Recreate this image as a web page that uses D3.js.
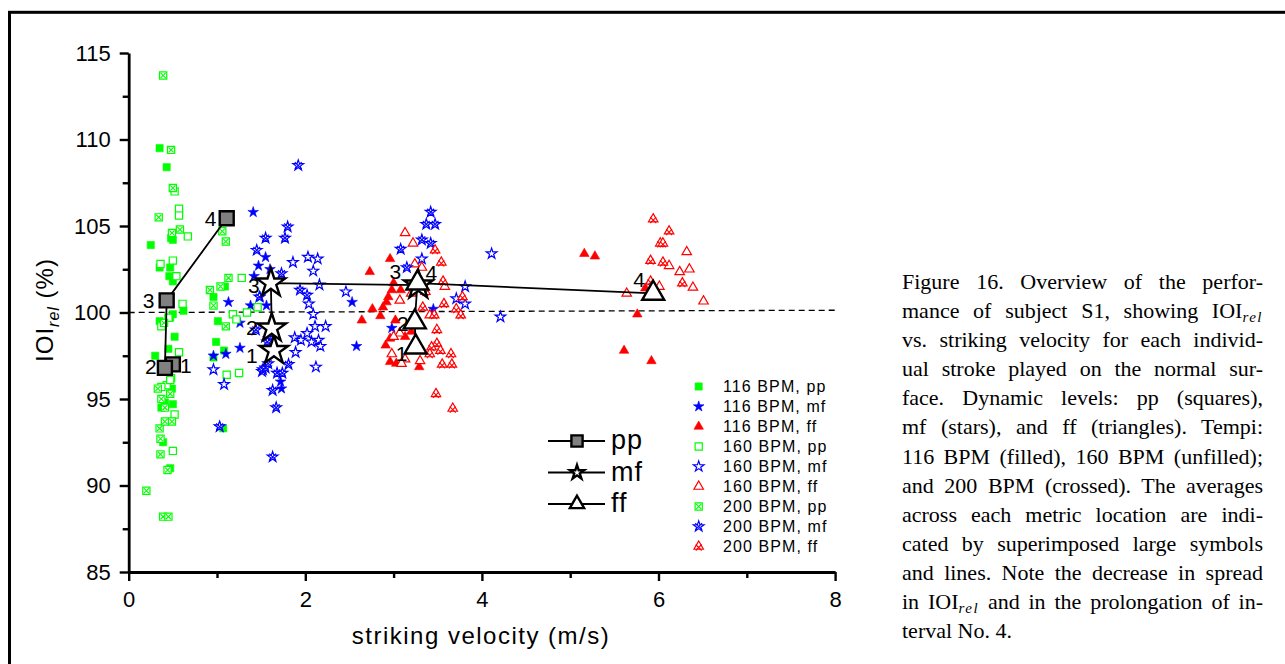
<!DOCTYPE html>
<html><head><meta charset="utf-8">
<script src="https://cdn.jsdelivr.net/npm/d3@7"></script>
<style>
body{margin:0;background:#fff;}
#wrap{position:relative;width:1285px;height:664px;overflow:hidden;background:#fff;}
#caption{position:absolute;left:902px;top:267px;width:361px;font-family:"Liberation Serif","Times New Roman",serif;font-size:22px;color:#000;}
#caption div{height:29.1px;line-height:29.1px;white-space:nowrap;text-align:justify;text-align-last:justify;}
#caption div.last{text-align-last:left;}
#caption .sub{font-style:italic;font-size:15px;position:relative;top:4px;letter-spacing:1.5px;line-height:0;}
</style></head><body>
<div id="wrap"><svg id="chart" width="1285" height="664"></svg><div id="caption"></div></div>
<script>
// ---------- data ----------
const xTicksMajor = [0, 2, 4, 6, 8];
const xTicksMinor = [1, 3, 5, 7];
const yTicksMajor = [85, 90, 95, 100, 105, 110, 115];
const yTicksMinor = [87.5, 92.5, 97.5, 102.5, 107.5, 112.5];

const pp116 = [[0.35,109.5],[0.43,108.4],[0.25,103.9],[0.48,104.3],[0.50,104.2],[0.35,102.6],[0.47,102.6],[0.46,102.1],[0.50,101.8],[0.62,100.1],[0.35,99.5],[0.47,99.7],[0.52,98.6],[0.45,97.9],[0.30,97.5],[0.49,95.6],[0.50,94.7],[0.41,94.8],[0.37,94.5],[0.39,92.5],[0.47,91.0],[0.96,100.9],[1.09,101.5],[1.01,99.5],[0.99,98.3],[1.08,97.8],[0.96,97.4],[1.07,93.3],[0.50,99.9]];
const pp160 = [[0.52,107.0],[0.57,106.0],[0.57,105.6],[0.67,104.4],[0.36,102.8],[0.50,103.0],[0.54,102.1],[0.61,100.5],[0.45,99.7],[0.37,99.2],[0.57,97.7],[0.48,96.2],[0.43,95.8],[0.37,95.7],[0.47,96.1],[0.52,94.1],[0.50,92.0],[1.28,102.0],[1.18,99.9],[1.34,100.0],[1.46,100.3],[1.22,99.6],[1.11,96.4],[1.25,96.5]];
const pp200 = [[0.39,113.7],[0.48,109.4],[0.50,107.2],[0.34,105.5],[0.58,104.8],[0.49,104.6],[0.40,99.4],[0.33,95.6],[0.37,95.0],[0.47,95.3],[0.41,94.5],[0.35,93.3],[0.41,93.7],[0.49,93.7],[0.36,92.7],[0.36,91.8],[0.44,90.9],[0.20,89.7],[0.39,88.2],[0.45,88.2],[1.06,104.7],[1.10,104.1],[1.13,102.0],[0.92,101.3],[1.04,101.5],[0.96,100.4],[1.10,99.2]];
const mf116 = [[1.41,105.8],[1.55,103.2],[1.47,102.7],[1.60,102.5],[1.42,102.1],[1.13,100.6],[1.38,100.4],[1.56,100.4],[1.49,100.9],[1.26,99.4],[0.96,97.5],[1.10,97.6],[1.26,97.95],[1.03,93.4],[1.73,95.6],[1.72,96.0],[2.53,100.6],[2.58,98.05],[3.45,100.2],[2.98,99.1]];
const mf160 = [[1.86,102.9],[2.03,103.2],[2.14,103.1],[2.09,102.4],[2.16,101.6],[2.04,100.5],[2.09,99.9],[2.46,101.2],[2.11,99.2],[2.23,99.2],[1.88,98.55],[1.95,98.4],[2.02,98.8],[2.07,98.3],[2.15,98.4],[2.17,98.05],[1.89,97.7],[2.12,96.85],[0.96,96.7],[1.08,95.85],[1.51,96.6],[4.11,103.4],[3.81,101.5],[3.71,100.8],[3.81,100.5],[4.21,99.75],[3.32,103.1]];
const mf200 = [[1.92,108.5],[1.80,104.95],[1.55,104.3],[1.77,104.3],[1.45,103.6],[1.73,102.25],[1.48,100.9],[1.94,101.3],[2.02,101.0],[1.59,98.5],[1.44,99.0],[1.52,96.7],[1.68,96.5],[1.74,96.5],[1.81,97.0],[1.63,95.5],[1.67,94.5],[1.63,91.65],[1.03,93.4],[1.57,98.3],[1.55,96.8],[1.58,97.05],[3.42,105.8],[3.37,105.1],[3.47,105.1],[3.32,104.2],[3.42,104.0],[3.08,103.66],[3.15,102.6]];
const ff116 = [[2.73,102.35],[2.96,103.1],[3.00,101.7],[2.98,101.3],[3.08,101.3],[2.94,100.9],[2.92,100.6],[2.88,100.3],[2.76,100.2],[2.64,99.55],[2.85,99.8],[3.02,99.55],[3.13,98.6],[2.91,98.1],[2.96,97.15],[3.03,97.05],[3.29,96.85],[5.16,103.4],[5.28,103.25],[5.76,99.9],[5.61,97.8],[5.92,97.2],[5.85,101.4],[3.20,98.9],[2.96,98.5]];
const ff160 = [[3.13,104.6],[3.22,104.0],[3.24,102.8],[3.32,102.6],[3.07,100.7],[3.58,101.5],[3.07,98.8],[3.00,98.6],[2.98,97.6],[3.13,97.3],[3.09,97.05],[3.30,97.2],[3.41,99.85],[6.32,103.5],[6.35,102.5],[6.24,102.35],[6.12,102.7],[6.39,101.45],[6.51,100.65],[6.01,101.5],[5.64,101.1],[3.20,101.1]];
const ff200 = [[3.47,103.6],[3.54,102.9],[3.56,101.8],[3.33,100.3],[3.46,99.85],[3.57,100.5],[3.71,100.2],[3.76,99.85],[3.78,100.9],[3.49,99.0],[3.49,98.2],[3.43,98.0],[3.53,97.8],[3.65,97.6],[3.55,97.0],[3.66,97.0],[3.41,97.6],[3.48,95.3],[3.67,94.45],[5.94,105.4],[6.12,104.7],[6.02,104.0],[6.05,104.0],[5.91,103.0],[6.05,102.9],[6.27,101.7],[5.91,101.8],[3.36,101.2]];

const avgLabels = ["1", "2", "3", "4"];
const ppAvgX = [0.50, 0.41, 0.43, 1.11];
const ppAvgY = [97.0, 96.8, 100.7, 105.45];
const mfAvgX = [1.645, 1.62, 1.61, 3.28];
const mfAvgY = [97.8, 99.1, 101.7, 101.58];
const ffAvgX = [3.25, 3.24, 3.27, 5.94];
const ffAvgY = [98.0, 99.45, 101.7, 101.1];

const refLineX = [0, 8];
const refLineY = [100.0, 100.13];

const seriesNames = ["116 BPM, pp","116 BPM, mf","116 BPM, ff","160 BPM, pp","160 BPM, mf","160 BPM, ff","200 BPM, pp","200 BPM, mf","200 BPM, ff"];
const avgNames = ["pp", "mf", "ff"];

const captionLines = [
 "Figure 16. Overview of the perfor-",
 "mance of subject S1, showing IOI<span class='sub'>rel</span>",
 "vs. striking velocity for each individ-",
 "ual stroke played on the normal sur-",
 "face. Dynamic levels: pp (squares),",
 "mf (stars), and ff (triangles). Tempi:",
 "116 BPM (filled), 160 BPM (unfilled);",
 "and 200 BPM (crossed). The averages",
 "across each metric location are indi-",
 "cated by superimposed large symbols",
 "and lines. Note the decrease in spread",
 "in IOI<span class='sub'>rel</span> and in the prolongation of in-",
 "terval No. 4."
];

// ---------- layout ----------
const GREEN = "#00ff00", BLUE = "#0000ff", RED = "#ff0000";
const FONT = "'Liberation Sans', Arial, Helvetica, sans-serif";
const svg = d3.select("#chart");
const xS = d3.scaleLinear().domain([0, 8]).range([128.7, 835.1]);
const yS = d3.scaleLinear().domain([85, 115]).range([572, 53]);

// frame
svg.append("rect").attr("x", 9.5).attr("y", 12.3).attr("width", 1400).attr("height", 800)
  .attr("fill", "none").attr("stroke", "#000").attr("stroke-width", 3);

// reference dashed line
svg.append("line").attr("x1", xS(refLineX[0])).attr("x2", xS(refLineX[1]))
  .attr("y1", yS(refLineY[0])).attr("y2", yS(refLineY[1]))
  .attr("stroke", "#000").attr("stroke-width", 1.3).attr("stroke-dasharray", "6,4");

// axes
function styleAxis(g) {
  g.select(".domain").attr("stroke-width", 2.8);
  g.selectAll(".tick line").attr("stroke-width", 2.4);
  g.selectAll("text").attr("font-family", FONT).attr("font-size", 22).attr("fill", "#000");
}
const yAxis = svg.append("g").attr("transform", `translate(${xS(0)},0)`)
  .call(d3.axisLeft(yS).tickValues(yTicksMajor).tickSize(9).tickSizeOuter(0).tickPadding(9).tickFormat(d3.format("d")));
styleAxis(yAxis);
const yMinor = svg.append("g").attr("transform", `translate(${xS(0)},0)`)
  .call(d3.axisLeft(yS).tickValues(yTicksMinor).tickSize(6).tickSizeOuter(0).tickFormat(""));
yMinor.select(".domain").remove(); yMinor.selectAll(".tick line").attr("stroke-width", 2.4);
const xAxis = svg.append("g").attr("transform", `translate(0,${yS(85)})`)
  .call(d3.axisBottom(xS).tickValues(xTicksMajor).tickSize(9).tickSizeOuter(0).tickPadding(10).tickFormat(d3.format("d")));
styleAxis(xAxis);
const xMinor = svg.append("g").attr("transform", `translate(0,${yS(85)})`)
  .call(d3.axisBottom(xS).tickValues(xTicksMinor).tickSize(6).tickSizeOuter(0).tickFormat(""));
xMinor.select(".domain").remove(); xMinor.selectAll(".tick line").attr("stroke-width", 2.4);

// axis titles
svg.append("text").attr("x", 481).attr("y", 644).attr("text-anchor", "middle")
  .attr("font-family", FONT).attr("font-size", 24).attr("letter-spacing", 1.5).text("striking velocity (m/s)");
const yt = svg.append("text").attr("transform", "translate(53,310) rotate(-90)").attr("text-anchor", "middle")
  .attr("font-family", FONT).attr("font-size", 24).attr("letter-spacing", 1);
yt.append("tspan").text("IOI");
yt.append("tspan").attr("dy", 6).attr("font-size", 16).attr("font-style", "italic").text("rel");
yt.append("tspan").attr("dy", -6).text(" (%)");

// symbol helpers
const symSq = s => d3.symbol(d3.symbolSquare, s * s)();
const symStar = r => d3.symbol(d3.symbolStar, r * r / 0.8908130915292852)();
const symTri = w => d3.symbol(d3.symbolTriangle, Math.sqrt(3) / 4 * w * w)();

function marker(g, shape, style, color, cx, cy) {
  const m = g.append("g").attr("transform", `translate(${cx},${cy})`);
  let d, c;
  if (shape === "sq") { d = symSq(7.2); c = 2.6; }
  else if (shape === "star") { d = symStar(5.6); c = 3.4; }
  else { d = symTri(9.5); c = 3.0; }
  const p = m.append("path").attr("d", d);
  if (style === "filled") p.attr("fill", color).attr("stroke", color).attr("stroke-width", 0.6);
  else {
    p.attr("fill", "#fff").attr("stroke", color).attr("stroke-width", 1.2);
    if (style === "crossed") {
      const oy = shape === "tri" ? 1 : 0;
      m.append("path").attr("d", `M${-c},${-c + oy}L${c},${c + oy}M${-c},${c + oy}L${c},${-c + oy}`)
        .attr("stroke", color).attr("stroke-width", 1.1).attr("fill", "none");
    }
  }
}

const seriesDefs = [
  [pp116, "sq", "filled", GREEN], [mf116, "star", "filled", BLUE], [ff116, "tri", "filled", RED],
  [pp160, "sq", "open", GREEN], [mf160, "star", "open", BLUE], [ff160, "tri", "open", RED],
  [pp200, "sq", "crossed", GREEN], [mf200, "star", "crossed", BLUE], [ff200, "tri", "crossed", RED]
];
const pts = svg.append("g");
seriesDefs.forEach(([data, sh, st, col]) => {
  data.forEach(([vx, vy]) => marker(pts, sh, st, col, xS(vx), yS(vy)));
});

// averages
const line = d3.line().x(d => xS(d[0])).y(d => yS(d[1]));
const avgDefs = [
  [ppAvgX, ppAvgY, "sq"], [mfAvgX, mfAvgY, "star"], [ffAvgX, ffAvgY, "tri"]
];
const avgG = svg.append("g");
avgDefs.forEach(([ax, ay]) => {
  avgG.append("path").attr("d", line(ax.map((v, i) => [v, ay[i]]))).attr("fill", "none")
    .attr("stroke", "#000").attr("stroke-width", 1.8);
});
function bigMarker(g, shape, cx, cy, scale) {
  const p = g.append("path").attr("transform", `translate(${cx},${cy})`);
  if (shape === "sq") p.attr("d", symSq(14 * scale)).attr("fill", "#808080").attr("stroke", "#000").attr("stroke-width", 2.4);
  else if (shape === "star") p.attr("d", symStar(15 * scale)).attr("fill", "#fff").attr("stroke", "#000").attr("stroke-width", 2.4);
  else p.attr("d", symTri(22 * scale)).attr("fill", "#fff").attr("stroke", "#000").attr("stroke-width", 2.4);
}
avgDefs.forEach(([ax, ay, sh]) => {
  ax.forEach((v, i) => bigMarker(avgG, sh, xS(v), yS(ay[i]), 1));
});
// label offsets (layout)
const labelOffsets = {
  sq: [[13, 1], [-14, -1.5], [-18, 0], [-16, 0]],
  star: [[-22, 5], [-20, -1], [-17, 2], [13, -13]],
  tri: [[-14, 6], [-12, 1], [-22, -12], [-14, -14]]
};
avgDefs.forEach(([ax, ay, sh]) => {
  ax.forEach((v, i) => {
    const [dx, dy] = labelOffsets[sh][i];
    avgG.append("text").attr("x", xS(v) + dx).attr("y", yS(ay[i]) + dy).attr("dy", "0.36em")
      .attr("text-anchor", "middle").attr("font-family", FONT).attr("font-size", 21).text(avgLabels[i]);
  });
});

// legend: averages
const lg1 = svg.append("g");
const lg1Y = [441, 472.5, 504];
avgNames.forEach((n, i) => {
  lg1.append("line").attr("x1", 548).attr("x2", 605).attr("y1", lg1Y[i]).attr("y2", lg1Y[i])
    .attr("stroke", "#000").attr("stroke-width", 1.8);
  bigMarker(lg1, avgDefs[i][2], 577, lg1Y[i], avgDefs[i][2] === "sq" ? 0.8 : (avgDefs[i][2] === "star" ? 0.5 : 0.65));
  lg1.append("text").attr("x", 611).attr("y", lg1Y[i]).attr("dy", "0.3em").attr("font-family", FONT)
    .attr("font-size", 27).attr("letter-spacing", 1).text(n);
});

// legend: series
const lg2 = svg.append("g");
seriesDefs.forEach(([data, sh, st, col], i) => {
  const cy = 386.5 + i * 20;
  marker(lg2, sh, st, col, 698.7, cy);
  lg2.append("text").attr("x", 723).attr("y", cy).attr("dy", "0.36em").attr("font-family", FONT)
    .attr("font-size", 16).attr("letter-spacing", 1.1).text(seriesNames[i]);
});

// caption
d3.select("#caption").selectAll("div").data(captionLines).join("div")
  .attr("class", (d, i) => i === captionLines.length - 1 ? "last" : null)
  .html(d => d);
</script>
</body></html>
